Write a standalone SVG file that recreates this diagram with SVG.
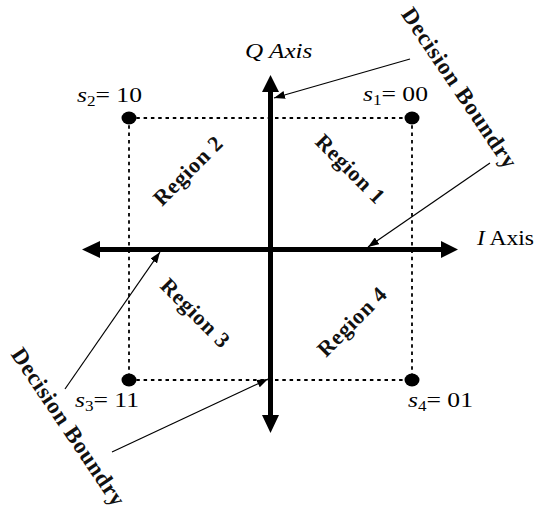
<svg xmlns="http://www.w3.org/2000/svg" width="536" height="509" viewBox="0 0 536 509">
<style>
.t{font-family:"Liberation Serif","Times New Roman",serif;font-size:21px;fill:#000}
.it{font-style:italic}
.sub{font-size:14px}
.b{font-family:"Liberation Serif","Times New Roman",serif;font-weight:bold;font-size:22px;fill:#111}
.db{font-size:23px}
.axis{stroke:#000;stroke-width:5;fill:none}
.dot{stroke:#000;stroke-width:1.8;stroke-dasharray:3.5 3.8;fill:none}
.thin{stroke:#000;stroke-width:1.2;fill:none;marker-end:url(#ah)}
</style>
<defs>
<marker id="ah" markerUnits="userSpaceOnUse" markerWidth="11" markerHeight="8" refX="11" refY="4" orient="auto">
<path d="M0,0 L11,4 L0,8 z" fill="#000"/>
</marker>
</defs>
<rect width="536" height="509" fill="#fff"/>
<g id="grid">
<path class="dot" d="M129,118 H412 M129,380 H412 M129,118 V380 M412,118 V380"/>
</g>
<g id="axes">
<path class="axis" d="M270.5,90 V418 M98,249.5 H443"/>
<path d="M270.5,75 L279,92 L262,92 z M270.5,433 L279,415 L262,415 z M82,249.5 L100,241 L100,258 z M458,249.5 L441,241 L441,258 z" fill="#000"/>
</g>
<g id="s1">
<ellipse cx="412" cy="118" rx="7.5" ry="6.5" fill="#000"/>
<text class="t" transform="translate(363,101) scale(1.22,1)"><tspan class="it">s</tspan><tspan class="sub" dy="4">1</tspan><tspan dy="-4">= 00</tspan></text>
</g>
<g id="s2">
<ellipse cx="129" cy="118" rx="7.5" ry="6.5" fill="#000"/>
<text class="t" transform="translate(77,102) scale(1.22,1)"><tspan class="it">s</tspan><tspan class="sub" dy="4">2</tspan><tspan dy="-4">= 10</tspan></text>
</g>
<g id="s3">
<ellipse cx="129" cy="380" rx="7.5" ry="6.5" fill="#000"/>
<text class="t" transform="translate(75,407) scale(1.22,1)"><tspan class="it">s</tspan><tspan class="sub" dy="4">3</tspan><tspan dy="-4">= 11</tspan></text>
</g>
<g id="s4">
<ellipse cx="412" cy="380" rx="7.5" ry="6.5" fill="#000"/>
<text class="t" transform="translate(408,407) scale(1.22,1)"><tspan class="it">s</tspan><tspan class="sub" dy="4">4</tspan><tspan dy="-4">= 01</tspan></text>
</g>
<g id="qaxis">
<text class="t it" transform="translate(245,58) scale(1.2,1)">Q Axis</text>
</g>
<g id="iaxis">
<text class="t" transform="translate(477,245) scale(1.12,1)"><tspan class="it">I</tspan> Axis</text>
</g>
<g id="region1"><text class="b" text-anchor="middle" textLength="88" lengthAdjust="spacing" transform="translate(345,174) rotate(45)">Region 1</text></g>
<g id="region2"><text class="b" text-anchor="middle" textLength="88" lengthAdjust="spacing" transform="translate(193,176) rotate(-45)">Region 2</text></g>
<g id="region3"><text class="b" text-anchor="middle" textLength="88" lengthAdjust="spacing" transform="translate(190,318) rotate(45)">Region 3</text></g>
<g id="region4"><text class="b" text-anchor="middle" textLength="88" lengthAdjust="spacing" transform="translate(357,327) rotate(-45)">Region 4</text></g>
<g id="db1"><text class="b db" text-anchor="middle" textLength="188" lengthAdjust="spacing" transform="translate(453,92) rotate(56)">Decision Boundry</text></g>
<g id="db2"><text class="b db" text-anchor="middle" textLength="185" lengthAdjust="spacing" transform="translate(62,431) rotate(56)">Decision Boundry</text></g>
<g id="connectors">
<path class="thin" d="M410,59 L274,98"/>
<path class="thin" d="M490,163 L368,247"/>
<path class="thin" d="M65,389 L160,252"/>
<path class="thin" d="M112,452 L268,379"/>
</g>
</svg>
